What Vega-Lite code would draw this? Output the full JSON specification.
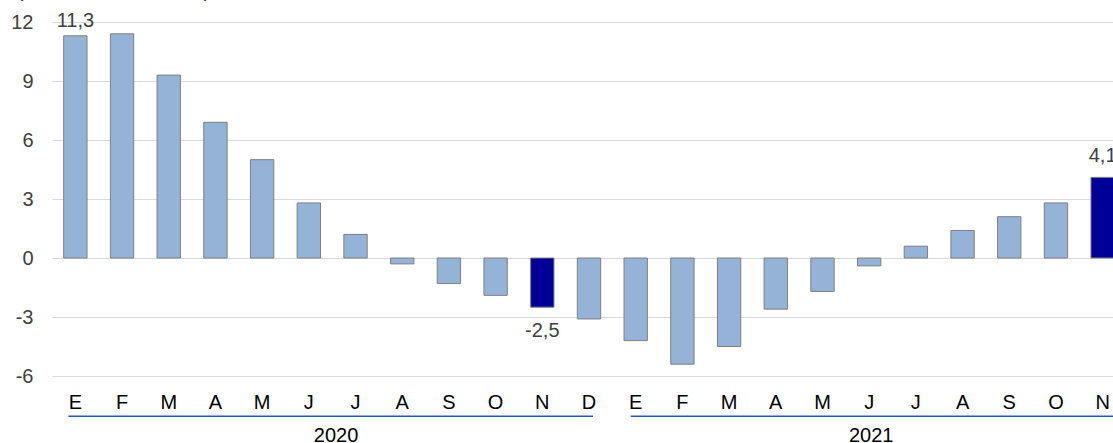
{
  "$schema": "https://vega.github.io/schema/vega-lite/v6.json",
  "autosize": {"type": "none"},
  "width": 1074,
  "height": 354,
  "padding": {"left": 52, "top": 22, "right": -13, "bottom": 67},
  "background": "white",
  "config": {"view": {"stroke": null}, "font": "Liberation Sans"},
  "datasets": {
    "bars": [
      {"k": "2020-01", "v": 11.3, "h": 0, "lbl": "11,3"},
      {"k": "2020-02", "v": 11.4, "h": 0},
      {"k": "2020-03", "v": 9.3, "h": 0},
      {"k": "2020-04", "v": 6.9, "h": 0},
      {"k": "2020-05", "v": 5.0, "h": 0},
      {"k": "2020-06", "v": 2.8, "h": 0},
      {"k": "2020-07", "v": 1.2, "h": 0},
      {"k": "2020-08", "v": -0.3, "h": 0},
      {"k": "2020-09", "v": -1.3, "h": 0},
      {"k": "2020-10", "v": -1.9, "h": 0},
      {"k": "2020-11", "v": -2.5, "h": 1, "lbl": "-2,5"},
      {"k": "2020-12", "v": -3.1, "h": 0},
      {"k": "2021-01", "v": -4.2, "h": 0},
      {"k": "2021-02", "v": -5.4, "h": 0},
      {"k": "2021-03", "v": -4.5, "h": 0},
      {"k": "2021-04", "v": -2.6, "h": 0},
      {"k": "2021-05", "v": -1.7, "h": 0},
      {"k": "2021-06", "v": -0.4, "h": 0},
      {"k": "2021-07", "v": 0.6, "h": 0},
      {"k": "2021-08", "v": 1.4, "h": 0},
      {"k": "2021-09", "v": 2.1, "h": 0},
      {"k": "2021-10", "v": 2.8, "h": 0},
      {"k": "2021-11", "v": 4.1, "h": 1, "lbl": "4,1"}
    ],
    "years": [
      {"year": "2020", "a": "2020-01", "b": "2020-12", "mid": "2020-07"},
      {"year": "2021", "a": "2021-01", "b": "2021-11", "mid": "2021-06"}
    ],
    "note": [
      {"t": "(variación anual, %)", "at": "2020-01"}
    ]
  },
  "layer": [
    {
      "data": {"name": "bars"},
      "mark": {"type": "bar", "stroke": "#7f7f7f", "strokeWidth": 1},
      "encoding": {
        "x": {
          "field": "k", "type": "ordinal",
          "scale": {"paddingInner": 0.5, "paddingOuter": 0.25},
          "axis": {
            "title": null, "domain": false, "ticks": false, "grid": false,
            "labelAngle": 0, "labelPadding": 16, "labelFontSize": 20,
            "labelFont": "Liberation Sans", "labelColor": "#000000",
            "labelExpr": "['E','F','M','A','M','J','J','A','S','O','N','D'][toNumber(substring(datum.value,5,7))-1]"
          }
        },
        "y": {
          "field": "v", "type": "quantitative",
          "scale": {"domain": [-6, 12], "nice": false, "zero": true},
          "axis": {
            "title": null, "domain": false, "ticks": false, "grid": true,
            "gridColor": "#d9d9d9", "gridWidth": 1,
            "values": [-6, -3, 0, 3, 6, 9, 12],
            "labelPadding": 19, "labelFontSize": 20, "labelFont": "Liberation Sans",
            "labelColor": "#404040", "labelExpr": "'' + datum.value"
          }
        },
        "color": {
          "field": "h", "type": "nominal",
          "scale": {"domain": [0, 1], "range": ["#95b3d7", "#000099"]},
          "legend": null
        }
      }
    },
    {
      "mark": {"type": "rule", "color": "#a6a6a6", "strokeWidth": 1.5},
      "encoding": {"y": {"datum": 0}}
    },
    {
      "data": {"name": "bars"},
      "transform": [{"filter": "datum.k == '2020-01'"}],
      "mark": {"type": "text", "baseline": "alphabetic", "dy": -9, "fontSize": 20, "color": "#404040"},
      "encoding": {"x": {"field": "k", "type": "ordinal"}, "y": {"field": "v", "type": "quantitative"}, "text": {"field": "lbl"}}
    },
    {
      "data": {"name": "bars"},
      "transform": [{"filter": "datum.k == '2021-11'"}],
      "mark": {"type": "text", "baseline": "alphabetic", "dy": -15, "fontSize": 20, "color": "#404040"},
      "encoding": {"x": {"field": "k", "type": "ordinal"}, "y": {"field": "v", "type": "quantitative"}, "text": {"field": "lbl"}}
    },
    {
      "data": {"name": "bars"},
      "transform": [{"filter": "datum.k == '2020-11'"}],
      "mark": {"type": "text", "baseline": "alphabetic", "dy": 30, "fontSize": 20, "color": "#404040"},
      "encoding": {"x": {"field": "k", "type": "ordinal"}, "y": {"field": "v", "type": "quantitative"}, "text": {"field": "lbl"}}
    },
    {
      "data": {"name": "note"},
      "mark": {"type": "text", "align": "left", "baseline": "alphabetic", "fontSize": 22, "color": "#404040", "xOffset": -59},
      "encoding": {"x": {"field": "at", "type": "ordinal"}, "y": {"datum": 13.3}, "text": {"field": "t"}}
    },
    {
      "data": {"name": "years"},
      "transform": [{"filter": "datum.year == '2020'"}],
      "mark": {"type": "rule", "color": "#2458c6", "strokeWidth": 1.6, "xOffset": -7, "x2Offset": 4},
      "encoding": {"x": {"field": "a", "type": "ordinal"}, "x2": {"field": "b"}, "y": {"datum": -8.05}}
    },
    {
      "data": {"name": "years"},
      "transform": [{"filter": "datum.year == '2021'"}],
      "mark": {"type": "rule", "color": "#2458c6", "strokeWidth": 1.6, "xOffset": -5, "x2Offset": 20},
      "encoding": {"x": {"field": "a", "type": "ordinal"}, "x2": {"field": "b"}, "y": {"datum": -8.05}}
    },
    {
      "data": {"name": "years"},
      "transform": [{"filter": "datum.year == '2020'"}],
      "mark": {"type": "text", "baseline": "alphabetic", "fontSize": 20, "color": "#000000", "xOffset": -19.5},
      "encoding": {"x": {"field": "mid", "type": "ordinal"}, "y": {"datum": -9.35}, "text": {"field": "year"}}
    },
    {
      "data": {"name": "years"},
      "transform": [{"filter": "datum.year == '2021'"}],
      "mark": {"type": "text", "baseline": "alphabetic", "fontSize": 20, "color": "#000000", "xOffset": 2},
      "encoding": {"x": {"field": "mid", "type": "ordinal"}, "y": {"datum": -9.35}, "text": {"field": "year"}}
    }
  ]
}
